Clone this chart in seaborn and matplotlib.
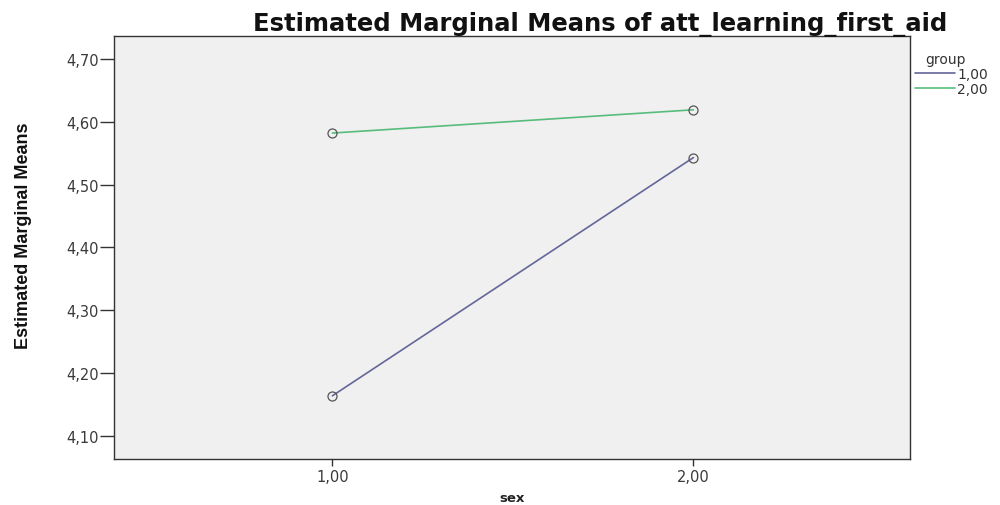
import matplotlib
matplotlib.use("Agg")
import matplotlib.pyplot as plt
import matplotlib.ticker as mticker
from matplotlib.lines import Line2D
import seaborn as sns
import pandas as pd

# Estimated marginal means by sex and group
sex_levels = [1.0, 2.0]
group_labels = ["1,00", "2,00"]
means_group1 = [4.164, 4.543]
means_group2 = [4.582, 4.619]
y_ticks = [4.10, 4.20, 4.30, 4.40, 4.50, 4.60, 4.70]

df = pd.DataFrame({
    "sex": sex_levels * 2,
    "mean": means_group1 + means_group2,
    "group": [group_labels[0]] * 2 + [group_labels[1]] * 2,
})

sns.set_theme(style="white")
plt.rcParams["font.family"] = ["DejaVu Sans"]

palette = {"1,00": "#64669a", "2,00": "#58bc7c"}

fig = plt.figure(figsize=(10, 5.06), dpi=100)
fig.patch.set_facecolor("white")
ax = fig.add_axes([0.114, 0.091, 0.796, 0.836])
ax.set_facecolor("#f0f0f0")

sns.lineplot(data=df, x="sex", y="mean", hue="group", palette=palette,
             marker="o", markersize=6.5, markerfacecolor="none",
             markeredgecolor="#555555", markeredgewidth=0.9,
             linewidth=1.2, legend=False, ax=ax)

ax.set_xlim(0.395, 2.6)
ax.set_ylim(4.0635, 4.7365)
ax.set_xticks(sex_levels)
ax.set_yticks(y_ticks)
comma = mticker.FuncFormatter(lambda v, p: f"{v:.2f}".replace(".", ","))
ax.xaxis.set_major_formatter(comma)
ax.yaxis.set_major_formatter(comma)
ax.tick_params(axis="both", direction="out", width=1, color="#333333",
               labelsize=10.5, labelcolor="#3a3a3a")
ax.tick_params(axis="x", bottom=True, length=5, pad=2)
ax.tick_params(axis="y", left=True, length=10, pad=1)
for s in ax.spines.values():
    s.set_color("#333333")
    s.set_linewidth(1.0)

ax.set_xlabel("sex", fontsize=9.5, fontweight="bold", labelpad=5, color="#222222")
ax.set_ylabel("Estimated Marginal Means", fontsize=13, fontweight="bold",
              family=["Liberation Sans", "DejaVu Sans"], color="#111111")
ax.yaxis.set_label_coords(-0.103, 0.53)

fig.text(0.6, 0.938, "Estimated Marginal Means of att_learning_first_aid",
         ha="center", va="baseline", fontsize=17.5, fontweight="bold", color="#111111")

handles = [Line2D([0], [0], color=palette[g], lw=1.2) for g in group_labels]
leg = fig.legend(handles, group_labels, title="group", loc="upper left",
                 bbox_to_anchor=(0.915, 0.895), frameon=False, fontsize=10,
                 title_fontsize=10, handlelength=2.9, handletextpad=0.15,
                 labelspacing=0.05, borderaxespad=0, borderpad=0)
leg._legend_box.align = "left"
leg.get_title().set_position((10, 0))
for t in leg.get_texts():
    t.set_color("#333333")
leg.get_title().set_color("#333333")

fig.savefig("out.png", dpi=100)
